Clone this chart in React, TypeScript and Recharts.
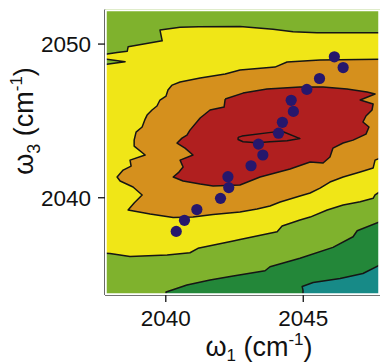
import React from "react";
import { ComposedChart, Scatter, XAxis, YAxis } from "recharts";

const FONT = "Liberation Sans, Arial, sans-serif";

const X_DOMAIN = [2037.79, 2047.79];
const Y_DOMAIN = [2033.67, 2052.25];
const X_TICKS = [2040, 2045];
const Y_TICKS = [2040, 2050];

// filled contour levels, outlines in (ω1, ω3) cm-1
const BACKGROUND = [[2037.5, 2033.3], [2048.2, 2033.3], [2048.2, 2052.6], [2037.5, 2052.6], [2037.5, 2033.3]];

const YELLOW = [
  [2037.5, 2049.35], [2037.87, 2049.35], [2038.23, 2049.45], [2038.6, 2049.54], [2038.63, 2049.82],
  [2039.87, 2050.21], [2039.79, 2050.91], [2040.52, 2051.09], [2041.2, 2051.12], [2042.7, 2051.14],
  [2043.9, 2050.96], [2044.63, 2050.8], [2045.5, 2050.74], [2048.2, 2050.74], [2048.2, 2040.44],
  [2047.79, 2040.39], [2047.61, 2040.18], [2047.54, 2039.96], [2047.07, 2039.74], [2046.45, 2039.53],
  [2045.87, 2039.2], [2045.25, 2038.74], [2044.88, 2038.55], [2044.23, 2038.16], [2044.05, 2037.79],
  [2042.7, 2037.28], [2042.45, 2037.18], [2041.17, 2036.71], [2040.88, 2036.42], [2040.05, 2036.27],
  [2038.7, 2036.17], [2037.97, 2036.37], [2037.5, 2036.4], [2037.5, 2049.35],
];

const WEDGE = [[2037.5, 2049.11], [2038.52, 2048.85], [2037.5, 2048.6], [2037.5, 2049.11]];

const ORANGE = [
  [2040.23, 2047.33], [2040.52, 2047.53], [2041.25, 2047.79], [2042.16, 2048.05], [2042.7, 2048.31],
  [2043.97, 2048.5], [2044.41, 2048.83], [2045.61, 2048.96], [2048.2, 2049.02], [2048.2, 2042.58],
  [2047.79, 2042.58], [2047.61, 2042.45], [2047.54, 2041.93], [2047.07, 2041.67], [2046.45, 2041.35],
  [2045.97, 2041.02], [2045.61, 2040.63], [2045.25, 2040.31], [2044.88, 2040.11], [2044.16, 2039.72],
  [2043.79, 2039.46], [2043.32, 2039.26], [2042.7, 2039.07], [2041.72, 2038.91], [2040.99, 2038.74],
  [2040.27, 2038.71], [2039.43, 2038.94], [2038.63, 2039.2], [2038.85, 2039.66], [2039.14, 2040.18],
  [2038.81, 2040.7], [2038.34, 2041.09], [2038.23, 2041.35], [2038.45, 2041.8], [2038.74, 2042.06],
  [2038.7, 2042.45], [2039.25, 2042.78], [2038.85, 2043.36], [2038.85, 2043.75], [2038.92, 2044.27],
  [2039.14, 2044.6], [2039.25, 2045.12], [2039.32, 2045.38], [2039.5, 2045.71], [2039.68, 2045.97],
  [2039.79, 2046.36], [2040.01, 2046.62], [2040.08, 2047.01], [2040.23, 2047.33],
];

const RED = [
  [2042.16, 2046.42], [2042.81, 2046.81], [2043.68, 2047.07], [2044.88, 2047.2], [2045.72, 2047.2],
  [2046.59, 2047.07], [2047.32, 2046.88], [2047.61, 2046.75], [2047.07, 2046.36], [2047.54, 2046.1],
  [2047.5, 2045.71], [2047.28, 2045.32], [2047.17, 2044.93], [2047.39, 2044.6], [2047.28, 2044.14],
  [2046.81, 2043.75], [2046.45, 2043.56], [2046.08, 2043.23], [2045.97, 2042.65], [2045.72, 2042.26],
  [2045.25, 2042.32], [2044.52, 2041.87], [2043.43, 2041.35], [2042.7, 2040.83], [2041.72, 2040.76],
  [2041.25, 2040.89], [2040.63, 2041.09], [2040.27, 2041.35], [2040.48, 2041.67], [2040.63, 2042.0],
  [2040.52, 2042.45], [2040.99, 2042.78], [2040.7, 2043.23], [2040.41, 2043.56], [2040.59, 2043.88],
  [2040.77, 2044.08], [2040.88, 2044.4], [2041.25, 2045.19], [2041.61, 2045.71], [2042.12, 2045.9],
  [2042.16, 2046.42],
];

const INNER = [
  [2042.63, 2043.93], [2042.77, 2044.01], [2043.9, 2044.27], [2044.27, 2044.29], [2044.88, 2043.85],
  [2044.41, 2043.71], [2043.79, 2043.64], [2043.32, 2043.58], [2042.81, 2043.64], [2042.63, 2043.79],
  [2042.63, 2043.93],
];

const DARK_GREEN = [
  [2040.01, 2033.3], [2040.01, 2033.86], [2040.23, 2033.99], [2040.77, 2034.32], [2041.61, 2034.65],
  [2042.45, 2034.91], [2043.61, 2035.25], [2043.79, 2035.51], [2044.88, 2036.06], [2046.08, 2036.77],
  [2046.81, 2037.46], [2046.96, 2037.85], [2047.79, 2038.44], [2048.2, 2038.7], [2048.2, 2033.3],
  [2040.01, 2033.3],
];

const TEAL = [
  [2044.99, 2033.3], [2044.99, 2033.99], [2044.96, 2034.22], [2045.36, 2034.48], [2046.34, 2034.74],
  [2047.17, 2035.07], [2047.79, 2035.62], [2048.2, 2035.95], [2048.2, 2033.3], [2044.99, 2033.3],
];

const FRAME = [[2037.79, 2033.67], [2047.79, 2033.67], [2047.79, 2052.25], [2037.79, 2052.25], [2037.79, 2033.67]];

// peak positions
const PEAKS = [
  [2040.38, 2037.81], [2040.68, 2038.53], [2041.13, 2039.23], [2041.99, 2039.96], [2042.29, 2040.66],
  [2042.26, 2041.37], [2043.1, 2042.08], [2043.53, 2042.78], [2043.37, 2043.49], [2044.1, 2044.2],
  [2044.24, 2044.91], [2044.64, 2045.62], [2044.56, 2046.34], [2045.13, 2047.05], [2045.59, 2047.76],
  [2046.45, 2048.47], [2046.13, 2049.17],
];

const toPts = (ring: number[][]) => ring.map(([x, y]) => ({ x, y }));

const LINE = "#151515";

const band = (key: string, ring: number[][], fill: string, stroke = LINE, width = 1.5) => (
  <Scatter
    key={key}
    data={toPts(ring)}
    isAnimationActive={false}
    lineType="joint"
    line={{ fill, stroke, strokeWidth: width, strokeLinejoin: "round" }}
    shape={() => <g />}
    legendType="none"
  />
);

const XLabel = (props: any) => {
  const { x, y } = props.viewBox;
  return (
    <text x={x + 154} y={y + 61} textAnchor="middle" fontFamily={FONT} fontSize={27} fill="#111">
      ω<tspan fontSize={17} dy={5}>1</tspan>
      <tspan dy={-5}> (cm</tspan>
      <tspan fontSize={17} dy={-11}>-1</tspan>
      <tspan dy={11}>)</tspan>
    </text>
  );
};

const YLabel = (props: any) => {
  const { x, y } = props.viewBox;
  const cx = x + 33;
  const cy = y + 111.5;
  return (
    <text x={cx} y={cy} transform={`rotate(-90, ${cx}, ${cy})`} textAnchor="middle" fontFamily={FONT} fontSize={27} fill="#111">
      ω<tspan fontSize={18} dy={7}>3</tspan>
      <tspan dy={-7}> (cm</tspan>
      <tspan fontSize={17} dy={-11}>-1</tspan>
      <tspan dy={11}>)</tspan>
    </text>
  );
};

export default function App() {
  const tick = { fill: "#111", fontSize: 22.5, fontFamily: FONT };
  return (
    <div style={{ width: 380, height: 364, background: "#fff" }}>
      <style>{`body{margin:0}`}</style>
      <ComposedChart width={380} height={364} margin={{ top: 9.5, right: 0, bottom: 0, left: 0 }}>
        <XAxis
          type="number"
          dataKey="x"
          domain={X_DOMAIN}
          allowDataOverflow
          ticks={X_TICKS}
          tickSize={7}
          tickMargin={8}
          tick={tick}
          height={69}
          axisLine={{ stroke: "#444", strokeWidth: 1.6 }}
          tickLine={{ stroke: "#222", strokeWidth: 1.4 }}
          label={(p: any) => <XLabel {...p} />}
        />
        <XAxis
          xAxisId="top"
          orientation="top"
          type="number"
          dataKey="x"
          domain={X_DOMAIN}
          allowDataOverflow
          height={0}
          tick={false}
          tickLine={false}
          axisLine={{ stroke: "#444", strokeWidth: 1.6 }}
        />
        <YAxis
          type="number"
          dataKey="y"
          domain={Y_DOMAIN}
          allowDataOverflow
          ticks={Y_TICKS}
          tickSize={7}
          tickMargin={7}
          tick={tick}
          width={105}
          axisLine={{ stroke: "#444", strokeWidth: 1.6 }}
          tickLine={{ stroke: "#222", strokeWidth: 1.4 }}
          label={(p: any) => <YLabel {...p} />}
        />
        {band("bg", BACKGROUND, "#7fb22d", "none")}
        {band("yellow", YELLOW, "#f0e617")}
        {band("wedge", WEDGE, "#7fb22d")}
        {band("orange", ORANGE, "#d5901d")}
        {band("red", RED, "#b01f1f")}
        {band("inner", INNER, "#b01f1f")}
        {band("dkgreen", DARK_GREEN, "#238739")}
        {band("teal", TEAL, "#178a87")}
        {band("frame", FRAME, "none", "#fff", 3.5)}
        <Scatter
          data={toPts(PEAKS)}
          isAnimationActive={false}
          legendType="none"
          shape={(p: any) => <circle cx={p.cx} cy={p.cy} r={5.6} fill="#26176c" />}
        />
      </ComposedChart>
    </div>
  );
}
